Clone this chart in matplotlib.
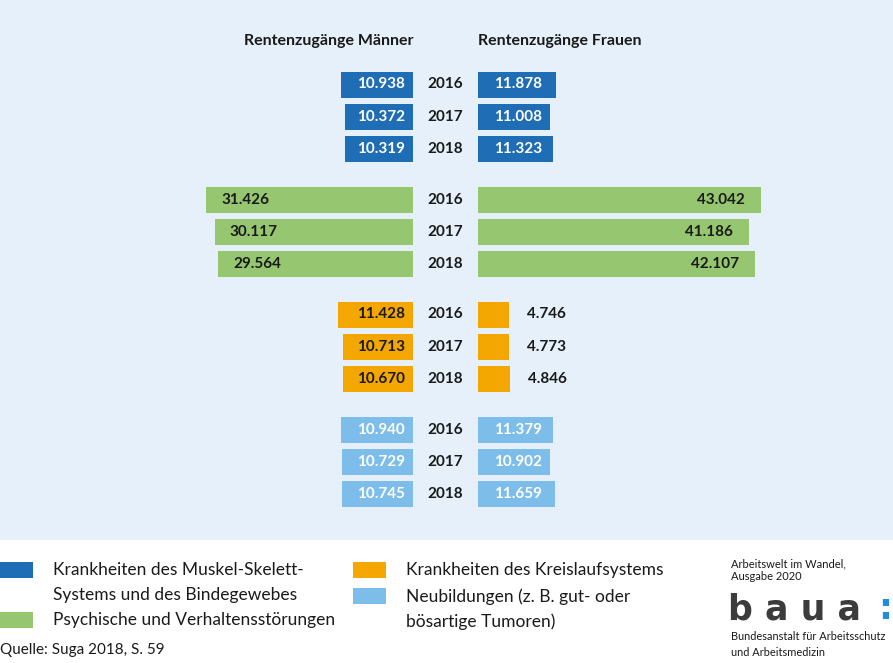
import numpy as np
import matplotlib
matplotlib.use("Agg")
import matplotlib.pyplot as plt
import matplotlib.patches as patches

plt.rcParams['font.family'] = ['Lato', 'DejaVu Sans']

years = ["2016", "2017", "2018"]
groups = ["Krankheiten des Muskel-Skelett-\nSystems und des Bindegewebes",
          "Psychische und Verhaltensstörungen",
          "Krankheiten des Kreislaufsystems",
          "Neubildungen (z. B. gut- oder\nbösartige Tumoren)"]
men = [[10.938, 10.372, 10.319],
       [31.426, 30.117, 29.564],
       [11.428, 10.713, 10.670],
       [10.940, 10.729, 10.745]]
women = [[11.878, 11.008, 11.323],
         [43.042, 41.186, 42.107],
         [4.746, 4.773, 4.846],
         [11.379, 10.902, 11.659]]
colors = ["#1f6db5", "#96c66f", "#f4a700", "#7dbde9"]
text_colors = ["white", "#1a1a1a", "#1a1a1a", "white"]

W, H = 893, 663
fig = plt.figure(figsize=(W / 100, H / 100), dpi=100)
fig.patch.set_facecolor("white")

# light blue panel behind the chart
fig.add_artist(patches.Rectangle((0, 1 - 540 / H), 1, 540 / H,
                                 transform=fig.transFigure,
                                 facecolor="#e6f0fa", edgecolor="none", zorder=0))

px = 6.58  # pixels per thousand
panel_h = 540 / H
axL = fig.add_axes([0, 1 - panel_h, 413 / W, panel_h])
axR = fig.add_axes([478 / W, 1 - panel_h, (W - 478) / W, panel_h])
axL.set_xlim(413 / px, 0)
axR.set_xlim(0, (W - 478) / px)
for ax in (axL, axR):
    ax.set_ylim(540, 0)
    ax.axis("off")
    ax.patch.set_alpha(0)


def fmt(v):
    return f"{v:.3f}"


for g in range(4):
    for i in range(3):
        y = 84.5 + 115 * g + 32.3 * i
        vm = men[g][i]
        vw = women[g][i]
        axL.barh(y, vm, height=26, color=colors[g])
        axR.barh(y, vw, height=26, color=colors[g])
        # men labels
        if vm > 20:
            axL.text(vm - 15 / px, y, fmt(vm), ha="left", va="center",
                     fontsize=11, fontweight="bold", color=text_colors[g])
        else:
            axL.text(8 / px, y, fmt(vm), ha="right", va="center",
                     fontsize=11, fontweight="bold", color=text_colors[g])
        # women labels
        if vw > 20:
            axR.text(vw - 16 / px, y, fmt(vw), ha="right", va="center",
                     fontsize=11, fontweight="bold", color=text_colors[g])
        elif vw < 8:
            axR.text(vw + 18 / px, y, fmt(vw), ha="left", va="center",
                     fontsize=11, fontweight="bold", color="#1a1a1a")
        else:
            axR.text(16 / px, y, fmt(vw), ha="left", va="center",
                     fontsize=11, fontweight="bold", color=text_colors[g])
        fig.text(445 / W, 1 - y / H, years[i], ha="center", va="center",
                 fontsize=11, fontweight="bold", color="#1a1a1a")

fig.text(413 / W, 1 - 41 / H, "Rentenzugänge Männer", ha="right", va="center",
         fontsize=11.5, fontweight="bold", color="#1a1a1a")
fig.text(478 / W, 1 - 41 / H, "Rentenzugänge Frauen", ha="left", va="center",
         fontsize=11.5, fontweight="bold", color="#1a1a1a")

# legend
leg = [(0, 570, 0, 53, 570), (0, 620, 1, 53, 620), (353, 570, 2, 406, 570), (353, 596, 3, 406, 597)]
for bx, by, g, tx, ty in leg:
    fig.add_artist(patches.Rectangle((bx / W, 1 - (by + 8) / H), 33 / W, 16 / H,
                                     transform=fig.transFigure, facecolor=colors[g],
                                     edgecolor="none"))
    lines = groups[g].split("\n")
    for k, ln in enumerate(lines):
        fig.text(tx / W, 1 - (ty + 25 * k) / H, ln, ha="left", va="center",
                 fontsize=12.5, color="#1a1a1a")

fig.text(0, 1 - 650 / H, "Quelle: Suga 2018, S. 59", ha="left", va="center",
         fontsize=11, color="#1a1a1a")

# logo block
fig.text(731 / W, 1 - 564 / H, "Arbeitswelt im Wandel,", fontsize=8, va="center", color="#1a1a1a")
fig.text(731 / W, 1 - 577 / H, "Ausgabe 2020", fontsize=8, va="center", color="#1a1a1a")
fig.text(728 / W, 1 - 610 / H, "b a u a", fontsize=25, va="center", color="#3c3c3c",
         family="DejaVu Sans", fontweight="bold")
fig.text(878 / W, 1 - 609 / H, ":", fontsize=25, va="center", color="#1e8fe0",
         fontweight="bold", family="DejaVu Sans")
fig.text(731 / W, 1 - 636 / H, "Bundesanstalt für Arbeitsschutz", fontsize=7.9, va="center", color="#1a1a1a")
fig.text(731 / W, 1 - 652 / H, "und Arbeitsmedizin", fontsize=7.9, va="center", color="#1a1a1a")

fig.savefig("out.png", dpi=100)
